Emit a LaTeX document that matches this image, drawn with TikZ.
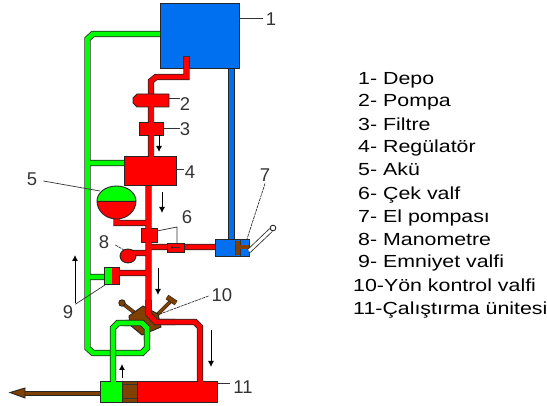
\documentclass[tikz,border=0pt]{standalone}
\usepackage{fontspec}
\usetikzlibrary{arrows.meta}
\setmainfont{Liberation Sans}
\definecolor{mavi}{RGB}{0,112,240}
\definecolor{yesil}{RGB}{0,255,0}
\definecolor{kirmizi}{RGB}{255,0,0}
\definecolor{kahve}{RGB}{128,64,0}
\tikzset{
    parca/.style={draw=black!85,line width=0.9pt},
    boru/.style={draw=black!85,line width=0.8pt,double distance=4.8pt},
    kol/.style={draw=black!85,line width=0.6pt,double=kahve,double distance=2.6pt},
    ince/.style={draw=black!80,line width=0.7pt},
    kesik/.style={draw=black!80,line width=0.7pt,dash pattern=on 3pt off 0.8pt},
    ok/.style={-{Latex[length=6pt,width=6pt]},line width=0.9pt},
    num/.style={font=\fontsize{18.5}{20}\selectfont,text=black!80,inner sep=0pt},
    liste/.style={font=\fontsize{17.5}{19}\selectfont,anchor=base west,inner sep=0pt,xscale=1.22,transform shape},
}
\begin{document}
\begin{tikzpicture}[x=1pt,y=-1pt]
    \useasboundingbox (0,0) rectangle (547,406);

    % yesil hat
    \draw[boru,double=yesil] (160,34) -- (93,34) -- (87.5,39) -- (87.5,348) -- (93,353)
        -- (142,353) -- (147,348) -- (147,328) -- (142,323)
        (87.5,163) -- (124,163) (87.5,277) -- (105,277);
    \draw[boru,double=yesil] (147,328) -- (142,323) -- (118,323) -- (113,328) -- (113,382);

    % kirmizi hat
    \draw[boru,double=kirmizi] (186.5,57) -- (186.5,77) -- (156,77) -- (151,81) -- (151,156)
        (148.5,185) -- (148.5,314) -- (156,322) -- (195,322) -- (200,327) -- (200,382)
        (116.5,215) -- (116.5,223) -- (148,223)
        (148,247) -- (216,247)
        (130,253) -- (148,253)
        (118,273) -- (148,273);

    % mavi hat
    \draw[boru,double=mavi] (231.5,68) -- (231.5,240);

    % depo
    \fill[mavi] (160,3) rectangle (239,68);
    \draw[parca] (160,3) rectangle (239,68);
    \fill[kirmizi] (184,56) rectangle (189,69);
    \draw[ince] (183.5,56) -- (183.5,68) (189.5,56) -- (189.5,68) (183.5,56) -- (189.5,56);

    % pompa
    \draw[parca,fill=kirmizi] (137,94) -- (169,94) -- (169,107) -- (137,107) -- (133,103) -- (133,98) -- cycle;
    % filtre
    \draw[parca,fill=kirmizi] (139,122) rectangle (163,135);
    \fill[kirmizi] (148.5,106) rectangle (153.5,123);
    \fill[kirmizi] (148.5,134) rectangle (153.5,157);
    % regulator
    \draw[parca,fill=kirmizi] (124,156) rectangle (176,185);
    \fill[kirmizi] (148.5,155) rectangle (153.5,157);

    % aku
    \draw[parca,fill=yesil] (97,201) arc[start angle=180,end angle=360,x radius=19.5,y radius=15];
    \draw[parca,fill=kirmizi] (97,201) arc[start angle=180,end angle=0,x radius=19.5,y radius=18];
    \draw[parca] (97,201) -- (136,201);

    % cek valfler
    \draw[parca,fill=kirmizi] (141,228) rectangle (157,242);
    \fill[kirmizi] (146,227) rectangle (151,243);
    \draw[parca,fill=kirmizi] (167,243) rectangle (184,252);
    \draw[ince] (171,247.5) -- (180,247.5);
    \fill[black] (172,247.5) circle (1.2);

    % manometre
    \draw[parca,fill=kirmizi] (128,256) ellipse (8 and 7);
    \fill[kirmizi] (134,251.5) rectangle (146.5,254.5);

    % emniyet valfi
    \fill[yesil] (104,267) rectangle (112,284);
    \fill[kirmizi] (112,267) rectangle (119,284);
    \draw[parca] (104,267) rectangle (119,284);

    % yon kontrol valfi
    \draw[kol] (122,303) -- (135,313);
    \draw[kol] (172,300) -- (156,316);
    \draw[parca,fill=kahve] (122,303) circle (3.2);
    \draw[kol,double distance=4pt] (167,297) -- (176,303);
    \draw[parca,fill=kahve] (129,316) -- (143,306) -- (158,314) -- (161,327) -- (142,335) -- (130,325) -- cycle;
    \draw[boru,double=kirmizi] (148.5,300) -- (148.5,314) -- (156,322) -- (175,322);
    \draw[boru,double=yesil] (147,340) -- (147,328) -- (142,323) -- (125,323);

    % el pompasi
    \fill[mavi] (215,239) rectangle (249,256);
    \fill[kahve] (235,241) rectangle (240,255);
    \draw[ince] (235,240) -- (235,256) (240,240) -- (240,256);
    \fill[kahve] (240,245.5) rectangle (249,249.5);
    \draw[parca] (215,239) rectangle (249,256);
    \draw[black!85,line width=4.6pt] (249,251) -- (271,230);
    \draw[white,line width=3pt] (249,251) -- (271,230);
    \draw[black!85,line width=0.9pt,fill=white] (273,228) circle (2.8);

    % silindir
    \draw[parca,fill=kahve] (24,391) rectangle (100.7,395);
    \draw[parca,fill=kahve] (25,388) -- (25,398) -- (10,392.5) -- cycle;
    \fill[yesil] (100.7,381) rectangle (122,402);
    \fill[kahve] (122,381) rectangle (137,402);
    \fill[kirmizi] (137,381) rectangle (217,402);
    \draw[ince] (122,384.5) -- (137,384.5) (122,398.5) -- (137,398.5);
    \draw[parca] (100.7,381) rectangle (217,402);
    \draw[parca] (122,381) -- (122,402) (137,381) -- (137,402);
    \fill[yesil] (110.5,380) rectangle (115.5,382);
    \fill[kirmizi] (197.5,380) rectangle (202.5,382);

    % oklar
    \draw[ok] (159,135) -- (159,152);
    \draw[ok] (162,192) -- (162,213);
    \draw[ok] (158,268) -- (158,295);
    \draw[ok] (75,303) -- (75,255);
    \draw[ok] (211,330) -- (211,367);
    \draw[ok] (122,378) -- (122,364);

    % numaralar
    \node[num] (n1) at (271,19) {1};
    \node[num] (n2) at (185,104) {2};
    \node[num] (n3) at (185,129) {3};
    \node[num] (n4) at (190,172) {4};
    \node[num] (n5) at (32,179) {5};
    \node[num] (n6) at (187,217) {6};
    \node[num] (n7) at (265,175) {7};
    \node[num] (n8) at (104,242) {8};
    \node[num] (n9) at (68,312) {9};
    \node[num] (n10) at (222,295) {10};
    \node[num] (n11) at (243,387) {11};

    % cizgiler
    \coordinate (c1) at (239,18);
    \coordinate (c2) at (169,98);
    \coordinate (c3) at (163,128);
    \coordinate (c4) at (176,169);
    \coordinate (c5) at (100,191);
    \coordinate (c6a) at (157,231);
    \coordinate (c6b) at (177,227);
    \coordinate (c6c) at (177,243);
    \coordinate (c7) at (247,239);
    \coordinate (c8) at (124,250);
    \coordinate (c9) at (105,285);
    \coordinate (c10) at (160,314);
    \coordinate (c11) at (217,383);
    \draw[ince] (n1.west) ++(-3,-1) -- (c1);
    \draw[ince] (n2.west) ++(0,-6) -- (c2);
    \draw[ince] (n3.west) ++(0,-1) -- (c3);
    \draw[ince] (n4.west) ++(-1,-3) -- (c4);
    \draw[ince] (n5.east) ++(6,2) -- (c5);
    \draw[ince] (c6a) -- (c6b) -- (c6c);
    \draw[kesik] (n7.south) ++(0,2) -- (c7);
    \draw[kesik] (n8.east) ++(6,3) -- (c8);
    \draw[ince] (n9.north east) ++(2,-1) -- (c9);
    \draw[kesik] (n10.west) ++(-3,1) -- (c10);
    \draw[ince] (n11.west) ++(-3,-4) -- (c11);

    % liste
    \node[liste] (l1) at (358,85) {1- Depo};
    \node[liste] (l2) at (358,107) {2- Pompa};
    \node[liste] (l3) at (358,131) {3- Filtre};
    \node[liste] (l4) at (358,153) {4- Regülatör};
    \node[liste] (l5) at (358,176) {5- Akü};
    \node[liste] (l6) at (358,200) {6- Çek valf};
    \node[liste] (l7) at (358,223) {7- El pompası};
    \node[liste] (l8) at (358,246) {8- Manometre};
    \node[liste] (l9) at (358,268) {9- Emniyet valfi};
    \node[liste] (l10) at (353,292) {10-Yön kontrol valfi};
    \node[liste] (l11) at (353,315) {11-Çalıştırma ünitesi};
\end{tikzpicture}
\end{document}
